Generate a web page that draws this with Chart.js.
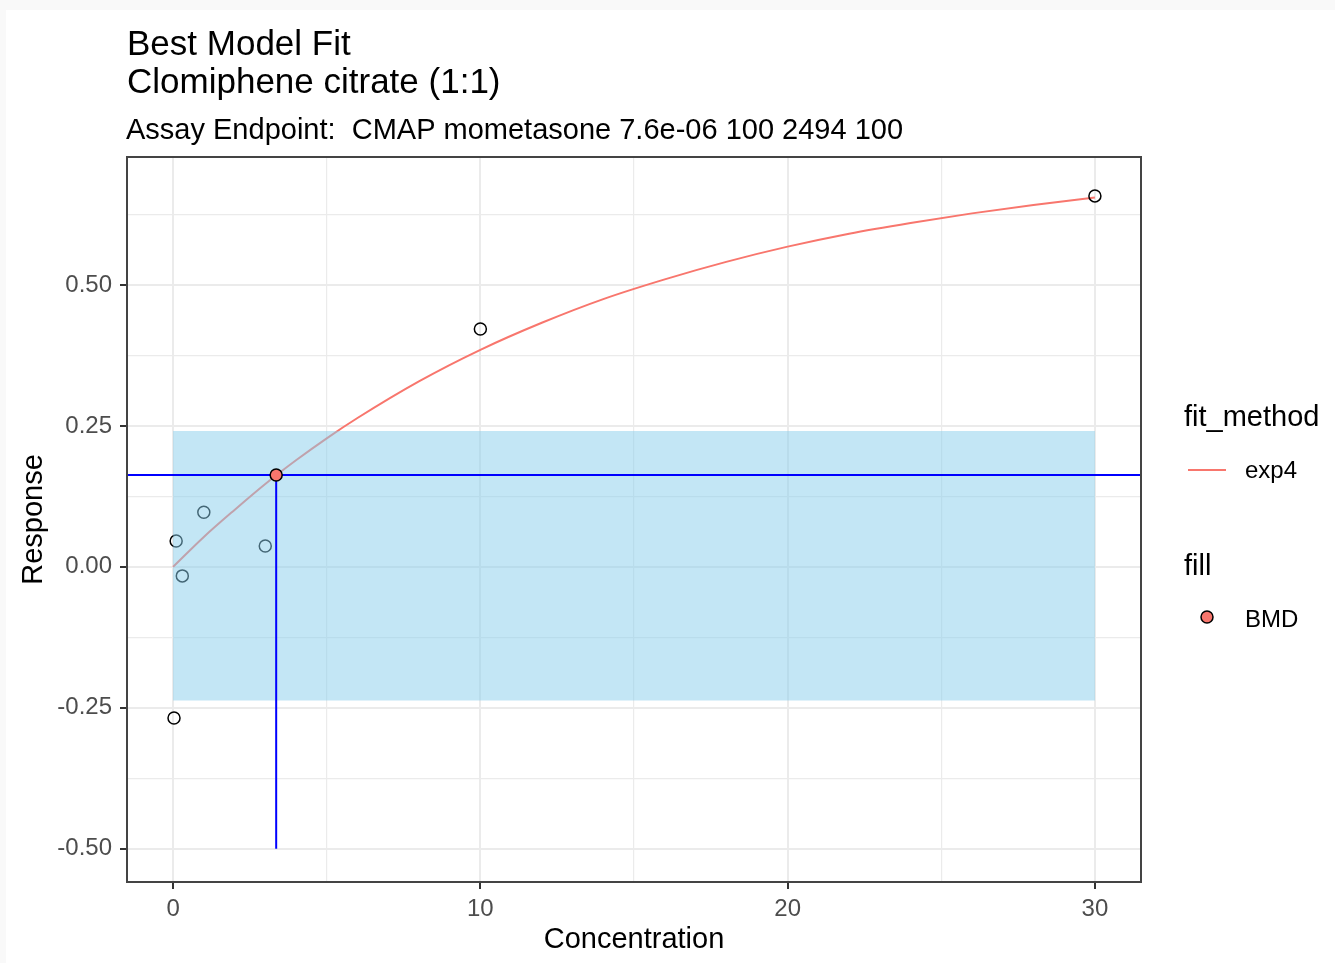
<!DOCTYPE html>
<html>
<head>
<meta charset="utf-8">
<title>Best Model Fit</title>
<script src="https://cdn.jsdelivr.net/npm/chart.js@4.4.1/dist/chart.umd.min.js"></script>
<style>
  html, body { margin: 0; padding: 0; background: #ffffff; }
  canvas { display: block; }
</style>
</head>
<body>
<canvas id="fitChart" width="1335" height="963"></canvas>
<script>
// observed responses
const obsConc = [0.03, 0.1, 0.3, 1, 3, 10, 30];
const obsResp = [-0.268, 0.046, -0.016, 0.097, 0.037, 0.422, 0.658];

// exp4 fit curve
const fitConc = [0, 1, 2, 3, 4, 5, 6, 8, 10, 12, 14, 16, 18, 20, 22, 24, 26, 28, 30];
const fitResp = [0, 0.053, 0.101, 0.147, 0.189, 0.228, 0.264, 0.329, 0.385, 0.433, 0.475, 0.510, 0.541, 0.568, 0.591, 0.610, 0.627, 0.642, 0.655];

// benchmark dose and the noise band
const bmdConc = 3.355;
const bmdResp = 0.163;
const bandConc = [0, 30];
const bandResp = [-0.237, 0.241];
const bmdLineFloor = -0.5;

// axes
const xRange = [-1.5, 31.5];
const yRange = [-0.559, 0.727];
const xTicks = [0, 5, 10, 15, 20, 25, 30];
const yTicks = [-0.5, -0.375, -0.25, -0.125, 0, 0.125, 0.25, 0.375, 0.5, 0.625];

const titleLines = ["Best Model Fit", "Clomiphene citrate (1:1)"];
const subtitle = "Assay Endpoint:  CMAP mometasone 7.6e-06 100 2494 100";

const FONT = "'Liberation Sans', Arial, sans-serif";
const SALMON = "#F8766D";

const isMajorX = (v) => v % 10 === 0;
const isMajorY = (v) => Math.abs(v * 4 - Math.round(v * 4)) < 1e-9;

// page background, titles, border and legend
const decorations = {
  id: "decorations",
  beforeDraw(chart) {
    const ctx = chart.ctx;
    ctx.save();
    ctx.fillStyle = "#ffffff";
    ctx.fillRect(0, 0, chart.width, chart.height);
    ctx.fillStyle = "#F9F9F9";
    ctx.fillRect(0, 0, chart.width, 10);
    ctx.fillRect(0, 0, 6, chart.height);
    ctx.restore();
  },
  afterDraw(chart) {
    const ctx = chart.ctx;
    const area = chart.chartArea;
    ctx.save();

    // panel border
    ctx.strokeStyle = "#444444";
    ctx.lineWidth = 2;
    ctx.strokeRect(area.left, area.top, area.right - area.left, area.bottom - area.top);

    // titles
    ctx.fillStyle = "#000000";
    ctx.textAlign = "left";
    ctx.textBaseline = "alphabetic";
    ctx.font = "35px " + FONT;
    ctx.fillText(titleLines[0], 127, 55);
    ctx.fillText(titleLines[1], 127, 93);
    ctx.font = "29px " + FONT;
    ctx.fillText(subtitle, 126, 139);

    // legend: fit_method
    ctx.textBaseline = "middle";
    ctx.font = "29px " + FONT;
    ctx.fillText("fit_method", 1184, 418);
    ctx.strokeStyle = SALMON;
    ctx.lineWidth = 2;
    ctx.beginPath();
    ctx.moveTo(1188, 470);
    ctx.lineTo(1226, 470);
    ctx.stroke();
    ctx.font = "24px " + FONT;
    ctx.fillText("exp4", 1245, 471);

    // legend: fill
    ctx.font = "29px " + FONT;
    ctx.fillText("fill", 1184, 567);
    ctx.beginPath();
    ctx.arc(1207, 617, 6, 0, Math.PI * 2);
    ctx.fillStyle = SALMON;
    ctx.fill();
    ctx.strokeStyle = "#000000";
    ctx.lineWidth = 1.5;
    ctx.stroke();
    ctx.fillStyle = "#000000";
    ctx.font = "24px " + FONT;
    ctx.fillText("BMD", 1245, 620);

    ctx.restore();
  }
};

const ctx = document.getElementById("fitChart").getContext("2d");

new Chart(ctx, {
  type: "scatter",
  data: {
    datasets: [
      {
        // fitted curve
        data: fitConc.map((c, i) => ({ x: c, y: fitResp[i] })),
        showLine: true,
        borderColor: SALMON,
        borderWidth: 2,
        pointRadius: 0,
        cubicInterpolationMode: "monotone",
        order: 6,
      },
      {
        // observed points
        data: obsConc.map((c, i) => ({ x: c, y: obsResp[i] })),
        pointRadius: 6,
        pointBorderWidth: 1.5,
        pointBackgroundColor: "rgba(0,0,0,0)",
        pointBorderColor: "#000000",
        order: 5,
      },
      {
        // noise band (drawn over the data, like the original)
        data: [
          { x: bandConc[0], y: bandResp[1] },
          { x: bandConc[1], y: bandResp[1] },
        ],
        showLine: true,
        borderColor: "rgba(0,0,0,0)",
        borderWidth: 1,
        pointRadius: 0,
        fill: { value: bandResp[0] },
        backgroundColor: "rgba(135,206,235,0.5)",
        order: 4,
      },
      {
        // horizontal BMD response line
        data: [
          { x: xRange[0], y: bmdResp },
          { x: xRange[1], y: bmdResp },
        ],
        showLine: true,
        borderColor: "#0000FF",
        borderWidth: 2,
        pointRadius: 0,
        order: 3,
      },
      {
        // vertical BMD line
        data: [
          { x: bmdConc, y: bmdLineFloor },
          { x: bmdConc, y: bmdResp },
        ],
        showLine: true,
        borderColor: "#0000FF",
        borderWidth: 2,
        pointRadius: 0,
        order: 2,
      },
      {
        // BMD point
        data: [{ x: bmdConc, y: bmdResp }],
        pointRadius: 6,
        pointBorderWidth: 1.5,
        pointBackgroundColor: SALMON,
        pointBorderColor: "#000000",
        order: 1,
      },
    ],
  },
  options: {
    responsive: false,
    devicePixelRatio: 1,
    animation: false,
    events: [],
    layout: { padding: { top: 157, right: 194, left: 0, bottom: 0 } },
    plugins: {
      legend: { display: false },
      tooltip: { enabled: false },
      title: { display: false },
    },
    scales: {
      x: {
        type: "linear",
        min: xRange[0],
        max: xRange[1],
        afterBuildTicks: (scale) => {
          scale.ticks = xTicks.map((v) => ({ value: v }));
        },
        afterFit: (scale) => {
          scale.height = 81;
        },
        border: { display: false },
        grid: {
          color: "#EBEBEB",
          lineWidth: (c) => (isMajorX(c.tick.value) ? 2 : 1.2),
          tickColor: (c) => (isMajorX(c.tick.value) ? "#333333" : "rgba(0,0,0,0)"),
          tickLength: 7,
          tickWidth: 2,
        },
        ticks: {
          autoSkip: false,
          maxRotation: 0,
          padding: 6,
          color: "#4D4D4D",
          font: { family: FONT, size: 24 },
          callback: (v) => (isMajorX(v) ? String(v) : ""),
        },
        title: {
          display: true,
          text: "Concentration",
          color: "#000000",
          font: { family: FONT, size: 29 },
          padding: { top: 0, bottom: 6 },
        },
      },
      y: {
        type: "linear",
        min: yRange[0],
        max: yRange[1],
        afterBuildTicks: (scale) => {
          scale.ticks = yTicks.map((v) => ({ value: v }));
        },
        afterFit: (scale) => {
          scale.width = 127;
        },
        border: { display: false },
        grid: {
          color: "#EBEBEB",
          lineWidth: (c) => (isMajorY(c.tick.value) ? 2 : 1.2),
          tickColor: (c) => (isMajorY(c.tick.value) ? "#333333" : "rgba(0,0,0,0)"),
          tickLength: 7,
          tickWidth: 2,
        },
        ticks: {
          autoSkip: false,
          padding: 8,
          color: "#4D4D4D",
          font: { family: FONT, size: 24 },
          callback: (v) => (isMajorY(v) ? v.toFixed(2) : ""),
        },
        title: {
          display: true,
          text: "Response",
          color: "#000000",
          font: { family: FONT, size: 29 },
          padding: { top: 17, bottom: 0 },
        },
      },
    },
  },
  plugins: [decorations],
});
</script>
</body>
</html>
